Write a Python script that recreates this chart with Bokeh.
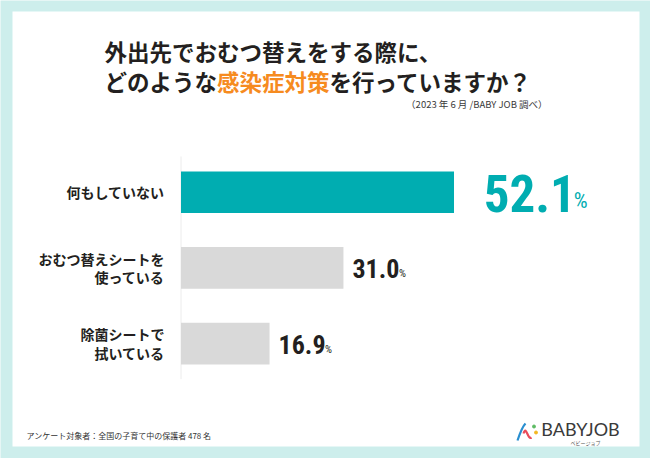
from bokeh.plotting import figure
from bokeh.models import Range1d, Label, ColumnDataSource, BoxAnnotation
from bokeh.core.properties import value
from bokeh.embed import file_html
from bokeh.resources import INLINE

# ---- data ----
categories = ["何もしていない", "おむつ替えシートを\n使っている", "除菌シートで\n拭いている"]
values = [52.1, 31.0, 16.9]
value_texts = ["52.1", "31.0", "16.9"]
title_line1 = "外出先でおむつ替えをする際に、"
title_line2 = ["どのような", "感染症対策", "を行っていますか？"]
subtitle = "（2023 年 6 月 /BABY JOB 調べ）"
footer = "アンケート対象者：全国の子育て中の保護者 478 名"
logo_text = "BABYJOB"
logo_sub = "ベビージョブ"

# ---- styles ----
TEAL = "#00adb1"
GRAY = "#d9d9d9"
INK = "#231f20"
ORANGE = "#f68b1f"
BG = "#cdeeec"
JP = "Noto Sans CJK JP"
NUMFONT = "'Roboto Condensed', 'Liberation Sans Narrow', 'DejaVu Sans Condensed', Roboto"

W, H = 650, 458
p = figure(width=W, height=H, x_range=Range1d(0, W), y_range=Range1d(H, 0),
           min_border=0, toolbar_location=None, output_backend="svg",
           x_axis_location=None, y_axis_location=None)
p.grid.visible = False
p.outline_line_color = None
p.background_fill_color = BG
p.border_fill_color = BG

# white panel
p.add_layout(BoxAnnotation(left=12, right=639, top=11, bottom=446, fill_color="white",
                           fill_alpha=1, line_color=None, level="underlay"))

# value / category ranges
x0_px, ppu = 180.5, 5.24
y0_px, step = 191.7, 75.7
p.extra_x_ranges = {"val": Range1d(-x0_px / ppu, (W - x0_px) / ppu)}
p.extra_y_ranges = {"idx": Range1d((H - y0_px) / step, -y0_px / step)}

n = len(categories)
idx = list(range(n))
vmax = max(values)
top = [v == vmax for v in values]

src = ColumnDataSource(dict(
    y=idx, v=values, txt=value_texts,
    color=[TEAL if t else GRAY for t in top],
    num_color=[TEAL if t else INK for t in top],
    num_size=["51px" if t else "26px" for t in top],
    num_dx=[29.7 if t else 9 for t in top],
    num_dy=[0.8 if t else 0.7 for t in top],
    pct=["%"] * n,
    pct_size=["22px" if t else "11px" for t in top],
    pct_dx=[119.7 if t else 55.5 for t in top],
    pct_dy=[8.3 if t else 6.0 for t in top],
))

# category labels, one row per text line, right aligned
LINE_H = 18.6
lab = dict(y=[], t=[], dy=[])
for i, c in enumerate(categories):
    lines = c.split("\n")
    for j, ln in enumerate(lines):
        lab["y"].append(i)
        lab["t"].append(ln)
        lab["dy"].append((j - (len(lines) - 1) / 2) * LINE_H)
lab_src = ColumnDataSource(lab)

# axis line
p.segment(x0=0, y0=-0.472, x1=0, y1=n - 1 + 0.47, line_color="#ececec", line_width=1,
          x_range_name="val", y_range_name="idx")

p.hbar(y="y", left=0, right="v", height=0.55, fill_color="color", line_color=None,
       source=src, x_range_name="val", y_range_name="idx")

p.text(x=0, y="y", text="t", source=lab_src, x_offset=-16.5, y_offset="dy", text_align="right",
       text_baseline="middle", text_font=value(JP), text_font_size="14px",
       text_font_style="bold", text_color=INK,
       x_range_name="val", y_range_name="idx")

p.text(x="v", y="y", text="txt", source=src, x_offset="num_dx", y_offset="num_dy",
       text_align="left", text_baseline="middle", text_font=value(NUMFONT),
       text_font_size="num_size", text_font_style="bold", text_color="num_color",
       x_range_name="val", y_range_name="idx")

p.text(x="v", y="y", text="pct", source=src, x_offset="pct_dx", y_offset="pct_dy",
       text_align="left", text_baseline="middle", text_font=value(NUMFONT),
       text_font_size="pct_size", text_color="num_color",
       x_range_name="val", y_range_name="idx")

# titles
TFS = 22.5
p.add_layout(Label(x=104, y=50.5, text=title_line1, text_baseline="middle",
                   text_font=JP, text_font_size=f"{TFS}px", text_font_style="bold", text_color=INK))
cols = [INK, ORANGE, INK]
xx = 104
for t, c in zip(title_line2, cols):
    p.add_layout(Label(x=xx, y=80.5, text=t, text_baseline="middle",
                       text_font=JP, text_font_size=f"{TFS}px", text_font_style="bold", text_color=c))
    xx += len(t) * TFS
p.add_layout(Label(x=547, y=103, text=subtitle, text_align="right", text_baseline="middle",
                   text_font=JP, text_font_size="9.5px", text_color="#3a3a3a"))
p.add_layout(Label(x=26, y=435, text=footer, text_baseline="middle",
                   text_font=JP, text_font_size="8px", text_color="#333333"))

# logo
p.add_layout(Label(x=580, y=428, text=logo_text, text_align="center", text_baseline="middle",
                   text_font="Lato", text_font_size="18px", text_color="#3a3a3a"))
p.add_layout(Label(x=585, y=442, text=logo_sub, text_align="center", text_baseline="middle",
                   text_font=JP, text_font_size="5px", text_color="#555555"))
p.bezier(x0=517, y0=440, x1=525, y1=423, cx0=519, cy0=434, cx1=522, cy1=426,
         line_color="#2a8fd0", line_width=2.2)
p.bezier(x0=523, y0=433, x1=531, y1=437, cx0=526, cy0=424, cx1=527, cy1=440,
         line_color="#e94b5a", line_width=2.2)
p.scatter(x=[533.5, 535.5], y=[426, 432], size=3, color=["#5dbb63", "#f3b81f"])

open("out.html", "w").write(file_html(p, INLINE))
